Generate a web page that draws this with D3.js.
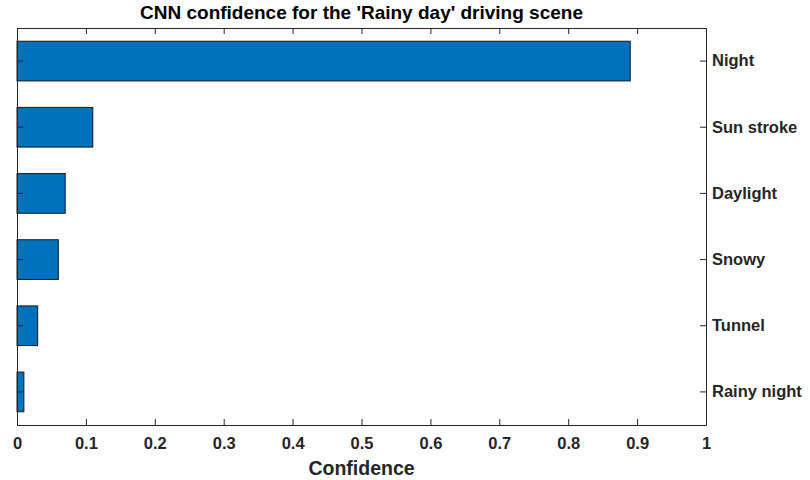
<!DOCTYPE html>
<html>
<head>
<meta charset="utf-8">
<script src="https://cdn.jsdelivr.net/npm/d3@7"></script>
<style>
  body { margin: 0; background: #fff; }
  text { font-family: "Liberation Sans", Arial, sans-serif; font-weight: bold; fill: #262626; }
</style>
</head>
<body>
<div id="chart"></div>
<script>
// data
const categories = ["Night", "Sun stroke", "Daylight", "Snowy", "Tunnel", "Rainy night"];
const confidence = [0.89, 0.11, 0.07, 0.06, 0.03, 0.01];
const xTicks = [0, 0.1, 0.2, 0.3, 0.4, 0.5, 0.6, 0.7, 0.8, 0.9, 1];

const width = 810, height = 480;
const margin = {top: 28, right: 104, bottom: 55, left: 17};
const innerW = width - margin.left - margin.right;
const innerH = height - margin.top - margin.bottom;

const svg = d3.select("#chart").append("svg")
    .attr("width", width)
    .attr("height", height);

const g = svg.append("g")
    .attr("transform", "translate(" + margin.left + "," + margin.top + ")");

const x = d3.scaleLinear().domain([0, 1]).range([0, innerW]);
const y = d3.scaleBand().domain(categories).range([0, innerH]).paddingInner(0.4).paddingOuter(0.2);

// bars
g.selectAll(".bar")
    .data(categories)
    .enter()
    .append("rect")
    .attr("x", x(0))
    .attr("y", d => y(d))
    .attr("width", (d, i) => x(confidence[i]) - x(0))
    .attr("height", y.bandwidth())
    .attr("fill", "#0072BD")
    .attr("stroke", "#1a1a1a")
    .attr("stroke-width", 1);

const tickLen = 6;
const axisColor = "#262626";

// bottom axis, ticks pointing in
const xAxis = g.append("g")
    .attr("transform", "translate(0," + innerH + ")")
    .call(d3.axisBottom(x).tickValues(xTicks).tickSize(-tickLen).tickPadding(12)
        .tickFormat(d => d === 0 || d === 1 ? d3.format("d")(d) : d3.format(".1f")(d)));
xAxis.select(".domain").attr("stroke", axisColor);
xAxis.selectAll(".tick line").attr("stroke", axisColor);
xAxis.selectAll("text").style("font-size", "16.5px");

// top box edge with inward ticks
const xTop = g.append("g")
    .call(d3.axisTop(x).tickValues(xTicks).tickSize(-tickLen).tickFormat(""));
xTop.select(".domain").attr("stroke", axisColor);
xTop.selectAll(".tick line").attr("stroke", axisColor);

// right axis with labels
const yRight = g.append("g")
    .attr("transform", "translate(" + innerW + ",0)")
    .call(d3.axisRight(y).tickSize(-tickLen).tickPadding(6).tickSizeOuter(0));
yRight.select(".domain").attr("stroke", axisColor);
yRight.selectAll(".tick line").attr("stroke", axisColor);
yRight.selectAll("text").style("font-size", "16.5px");

// left box edge
const yLeft = g.append("g")
    .call(d3.axisLeft(y).tickSize(-tickLen).tickFormat("").tickSizeOuter(0));
yLeft.select(".domain").attr("stroke", axisColor);
yLeft.selectAll(".tick line").attr("stroke", axisColor);

// title
svg.append("text")
    .attr("x", margin.left + innerW / 2)
    .attr("y", 19)
    .attr("text-anchor", "middle")
    .style("font-size", "19px")
    .style("fill", "#000")
    .text("CNN confidence for the 'Rainy day' driving scene");

// x label
svg.append("text")
    .attr("x", margin.left + innerW / 2)
    .attr("y", 475)
    .attr("text-anchor", "middle")
    .style("font-size", "19.5px")
    .text("Confidence");
</script>
</body>
</html>
